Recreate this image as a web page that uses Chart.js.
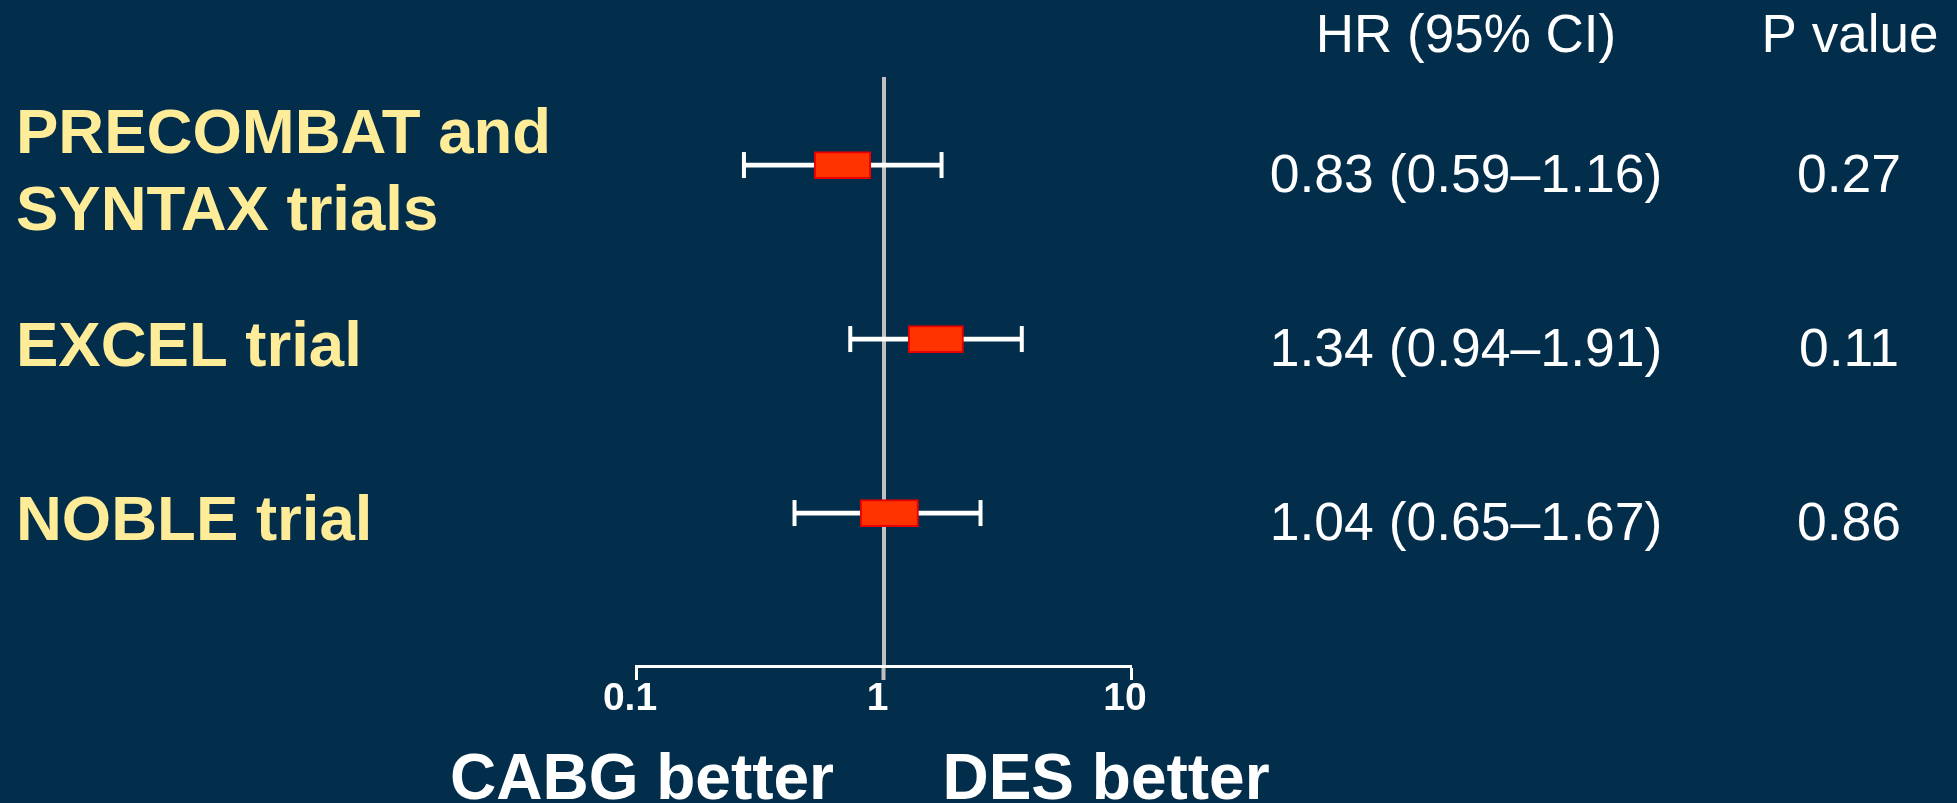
<!DOCTYPE html>
<html>
<head>
<meta charset="utf-8">
<script src="https://cdn.jsdelivr.net/npm/chart.js@4/dist/chart.umd.min.js"></script>
<style>
  html, body { margin: 0; padding: 0; background: #022D4B; }
  #wrap { width: 1957px; height: 803px; position: relative; }
</style>
</head>
<body>
<div id="wrap"><canvas id="c" width="1957" height="803"></canvas></div>
<script>
// ---- data ----
const rowLabels = [['PRECOMBAT and', 'SYNTAX trials'], 'EXCEL trial', 'NOBLE trial'];
const rowIndex = [1, 2, 3];
const whiskerLow  = [0.273, 0.734, 0.437];
const whiskerHigh = [1.716, 3.62, 2.466];
const boxLow  = [0.525, 1.258, 0.805];
const boxHigh = [0.889, 2.105, 1.385];
const hrText = ['0.83 (0.59–1.16)', '1.34 (0.94–1.91)', '1.04 (0.65–1.67)'];
const pText  = ['0.27', '0.11', '0.86'];
const headers = ['HR (95% CI)', 'P value'];
const xTickValues = [0.1, 1, 10];
const xTickLabels = ['0.1', '1', '10'];
const favourLabels = ['CABG better', 'DES better'];

const FONT = '"Liberation Sans", Arial, sans-serif';
const BG = '#022D4B';
const YELLOW = '#FFEC99';

const boxData = rowIndex.map((r, i) => ({ y: r, x: [boxLow[i], boxHigh[i]] }));
const whiskerData = rowIndex.map((r, i) => ({ y: r, x: [whiskerLow[i], whiskerHigh[i]] }));
const capData = [];
rowIndex.forEach((r, i) => { capData.push({ x: whiskerLow[i], y: r }); capData.push({ x: whiskerHigh[i], y: r }); });

const bgPlugin = {
  id: 'bg',
  beforeDraw(chart) {
    const ctx = chart.ctx;
    ctx.save();
    ctx.fillStyle = BG;
    ctx.fillRect(0, 0, chart.width, chart.height);
    ctx.restore();
  }
};

const tablePlugin = {
  id: 'table',
  afterDraw(chart) {
    const ctx = chart.ctx;
    const y = chart.scales.y;
    ctx.save();
    ctx.fillStyle = '#FFFFFF';
    ctx.textAlign = 'center';
    ctx.textBaseline = 'alphabetic';
    ctx.font = '53px ' + FONT;
    ctx.fillText(headers[0], 1466, 52);
    ctx.fillText(headers[1], 1850, 52);
    ctx.font = '53.5px ' + FONT;
    rowIndex.forEach((r, i) => {
      const py = y.getPixelForValue(r) + 27;
      ctx.fillText(hrText[i], 1466, py);
      ctx.fillText(pText[i], 1849, py);
    });
    ctx.font = 'bold 64px ' + FONT;
    ctx.fillText(favourLabels[0], 642, 799);
    ctx.fillText(favourLabels[1], 1106, 799);
    ctx.restore();
  }
};

new Chart(document.getElementById('c'), {
  type: 'bar',
  data: {
    datasets: [
      {
        label: 'HR',
        data: boxData,
        backgroundColor: '#FF3300',
        borderColor: '#E80000',
        borderWidth: 2,
        borderSkipped: false,
        barThickness: 27,
        grouped: false,
        order: 0
      },
      {
        type: 'scatter',
        label: 'caps',
        data: capData,
        pointStyle: 'line',
        rotation: 90,
        radius: 13,
        hoverRadius: 13,
        borderColor: '#FFFFFF',
        backgroundColor: '#FFFFFF',
        borderWidth: 4,
        order: 1
      },
      {
        label: 'CI',
        data: whiskerData,
        backgroundColor: '#FFFFFF',
        borderWidth: 0,
        barThickness: 4,
        grouped: false,
        order: 2
      }
    ]
  },
  options: {
    indexAxis: 'y',
    responsive: false,
    animation: false,
    events: [],
    layout: { padding: { top: 77, left: 16, right: 826, bottom: 0 } },
    plugins: {
      legend: { display: false },
      tooltip: { enabled: false },
      title: { display: false }
    },
    scales: {
      x: {
        type: 'logarithmic',
        position: 'bottom',
        min: 0.1,
        max: 10,
        offset: false,
        afterBuildTicks(scale) { scale.ticks = xTickValues.map(v => ({ value: v })); },
        afterFit(scale) { scale.height = 137; },
        ticks: {
          callback(v) { const k = xTickValues.indexOf(v); return k >= 0 ? xTickLabels[k] : ''; },
          color: '#FFFFFF',
          font: { family: FONT, size: 39, weight: 'bold' },
          padding: -4,
          labelOffset: -6,
          autoSkip: false,
          maxRotation: 0
        },
        grid: {
          offset: false,
          drawOnChartArea: false,
          drawTicks: true,
          tickLength: 14,
          tickColor: (c) => (c.tick && c.tick.value === 1) ? '#C0C0C0' : '#FFFFFF',
          tickWidth: (c) => (c.tick && c.tick.value === 1) ? 4 : 3,
          color: '#FFFFFF'
        },
        border: { display: true, color: '#FFFFFF', width: 3 }
      },
      x2: {
        type: 'logarithmic',
        axis: 'x',
        position: 'top',
        min: 0.1,
        max: 10,
        offset: false,
        afterBuildTicks(scale) { scale.ticks = [{ value: 1 }]; },
        afterFit(scale) { scale.height = 0; },
        ticks: { display: false },
        grid: {
          offset: false,
          drawOnChartArea: true,
          drawTicks: false,
          color: '#C0C0C0',
          lineWidth: 4
        },
        border: { display: false }
      },
      y: {
        type: 'linear',
        position: 'left',
        reverse: true,
        offset: false,
        min: 0.494,
        max: 3.879,
        afterBuildTicks(scale) { scale.ticks = rowIndex.map(v => ({ value: v })); },
        afterFit(scale) { scale.width = 620; },
        ticks: {
          callback(v) { const k = rowIndex.indexOf(v); return k >= 0 ? rowLabels[k] : ''; },
          color: YELLOW,
          font: { family: FONT, size: 63.5, weight: 'bold', lineHeight: 1.2 },
          crossAlign: 'far',
          labelOffset: 9,
          autoSkip: false
        },
        grid: { display: false, offset: false },
        border: { display: false }
      }
    }
  },
  plugins: [bgPlugin, tablePlugin]
});
</script>
</body>
</html>
